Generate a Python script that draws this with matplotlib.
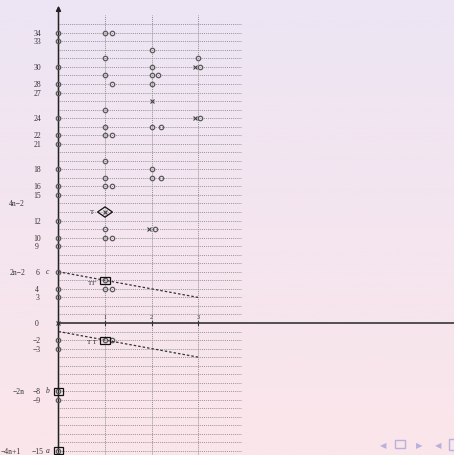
import matplotlib
matplotlib.use("Agg")
import matplotlib.pyplot as plt
import numpy as np
from matplotlib.patches import Rectangle, Polygon

plt.rcParams['font.family'] = ['Liberation Serif', 'DejaVu Serif']

# data: rows (y values) of the marks in each column
col0 = [34, 33, 30, 28, 27, 24, 22, 21, 18, 16, 15, 12, 10, 9, 6, 4, 3, -2, -3, -8, -9, -15]
col1_single = [31, 29, 25, 23, 19, 17, 11, 5, -2]
col1_double = [34, 22, 16, 10, 4]
col1_shift = [28, -2]
col2_single = [32, 30, 28, 18]
col2_tight = [29]
col2_wide = [23, 17]
col2_cross = [26]
col2_xo = [11]
col3_single = [31]
col3_xo = [30, 24]

box_x = [0, 0, 1, 1]
box_y = [-8, -15, 5, -2]
diamond_x, diamond_y = 1, 13

left_rows = [34, 33, 30, 28, 27, 24, 22, 21, 18, 16, 15, 12, 10, 9, 6, 4, 3, 0, -2, -3, -8, -9, -15]
param_rows = [14, 6, -8, -15]
param_text = ['4n\u22122', '2n\u22122', '\u22122n', '\u22124n+1']
letter_rows = [6, -8, -15]
letter_text = ['c', 'b', 'a']

line1_x, line1_y = [0, 3], [6, 3]
line2_x, line2_y = [0, 3], [-1, -4]

grid_rows = list(range(-15, 36))
xmin, xmax = -1.258, 8.505
ymin, ymax = -15.47, 37.96

fig = plt.figure(figsize=(4.54, 4.56), dpi=100)
ax = fig.add_axes([0, 0, 1, 1])
ax.set_xlim(xmin, xmax)
ax.set_ylim(ymin, ymax)
ax.axis('off')

# beamer background gradient
top = np.array([237, 229, 244]) / 255
bot = np.array([251, 229, 234]) / 255
t = np.linspace(0, 1, 256)[:, None]
grad = (top * (1 - t) + bot * t)[:, None, :]
ax.imshow(grad, extent=[xmin, xmax, ymin, ymax], aspect='auto', zorder=0)

gc = '#7d7d7d'
for r in grid_rows:
    ax.plot([0, 3.95], [r, r], color=gc, lw=0.6, ls=(0, (1, 1.3)), zorder=1)
for c in [1, 2, 3]:
    ax.plot([c, c], [ymin, 36.1], color='#909090', lw=0.7, ls=(0, (1, 1.0)), zorder=1)

# axes
ax.annotate('', xy=(0, 37.5), xytext=(0, ymin), arrowprops=dict(arrowstyle='-|>', color='#222', lw=1.1, mutation_scale=7), zorder=3)
ax.plot([0, xmax], [0, 0], color='#444', lw=1.3, zorder=3)
for c in [1, 2, 3]:
    ax.plot([c, c], [-0.25, 0.25], color='#333', lw=0.8, zorder=3)
    ax.text(c, 0.45, str(c), fontsize=4.5, ha='center', va='bottom', color='#333')
ax.plot(0, 0, 'x', color='#333', ms=3, mew=0.8, zorder=4)

mk = dict(ls='none', marker='o', mfc='none', mec='#5a5a5a', ms=3.2, mew=0.9, zorder=4)
ax.plot([0] * len(col0), col0, **mk)
ax.plot([1] * len(col1_single), col1_single, **mk)
ax.plot([1] * len(col1_double), col1_double, **mk)
ax.plot([1.16] * len(col1_double), col1_double, **mk)
ax.plot([1.15] * len(col1_shift), col1_shift, **mk)
ax.plot([2] * len(col2_single), col2_single, **mk)
ax.plot([2, 2.13], col2_tight * 2, **mk)
ax.plot([2] * len(col2_wide), col2_wide, **mk)
ax.plot([2.2] * len(col2_wide), col2_wide, **mk)
ax.plot([3] * len(col3_single), col3_single, **mk)
ax.plot([2.07] * len(col2_xo), col2_xo, **mk)
ax.plot([3.05] * len(col3_xo), col3_xo, **mk)

xk = dict(ls='none', marker='x', color='#444', ms=3.2, mew=0.8, zorder=4)
ax.plot([2] * len(col2_cross), col2_cross, **xk)
ax.plot([1.95] * len(col2_xo), col2_xo, **xk)
ax.plot([2.93] * len(col3_xo), col3_xo, **xk)
ax.plot([diamond_x], [diamond_y], **xk)

# boxes and diamond
bw, bh = 0.21, 0.82
for bx, by in zip(box_x, box_y):
    ax.add_patch(Rectangle((bx - bw / 2, by - bh / 2), bw, bh, fill=False, ec='#111', lw=0.9, zorder=5))
dw, dh = 0.16, 0.6
ax.add_patch(Polygon([(diamond_x - dw, diamond_y), (diamond_x, diamond_y + dh),
                      (diamond_x + dw, diamond_y), (diamond_x, diamond_y - dh)],
                     closed=True, fill=False, ec='#111', lw=0.9, zorder=5))
ax.text(0.72, 13.05, 'T', fontsize=5, ha='center', va='center', color='#222')
ax.text(0.74, 4.75, "TT'", fontsize=5, ha='center', va='center', color='#222')
ax.text(0.72, -2.15, 'T T', fontsize=5, ha='center', va='center', color='#222')

# dashed lines
ax.plot(line1_x, line1_y, color='#333', lw=0.9, ls=(0, (2, 1.6)), zorder=3)
ax.plot(line2_x, line2_y, color='#333', lw=0.9, ls=(0, (2, 1.6)), zorder=3)

# left labels
for r in left_rows:
    ax.text(-0.46, r, str(r).replace('-', '\u2212'), fontsize=5.5, ha='center', va='center', color='#333')
for r, s in zip(param_rows, param_text):
    ax.text(-0.72 if r != -15 else -0.8, r, s, fontsize=5.5, ha='right', va='center', color='#333')
for r, s in zip(letter_rows, letter_text):
    ax.text(-0.23, r + 0.1, s, fontsize=5.5, ha='center', va='center', color='#333', style='italic')

# navigation symbols
nav = '#b9b0dc'
fig.text(0.844, 0.024, '\u25c0', fontsize=6, color=nav, ha='center', va='center', family='DejaVu Sans')
fig.patches.append(Rectangle((0.871, 0.016), 0.022, 0.017, transform=fig.transFigure, fill=False, ec=nav, lw=1.0))
fig.text(0.923, 0.024, '\u25b6', fontsize=6, color=nav, ha='center', va='center', family='DejaVu Sans')
fig.text(0.966, 0.024, '\u25c0', fontsize=6, color=nav, ha='center', va='center', family='DejaVu Sans')
fig.patches.append(Rectangle((0.988, 0.012), 0.02, 0.022, transform=fig.transFigure, fill=False, ec=nav, lw=1.0))

fig.savefig('out.png', dpi=100)
